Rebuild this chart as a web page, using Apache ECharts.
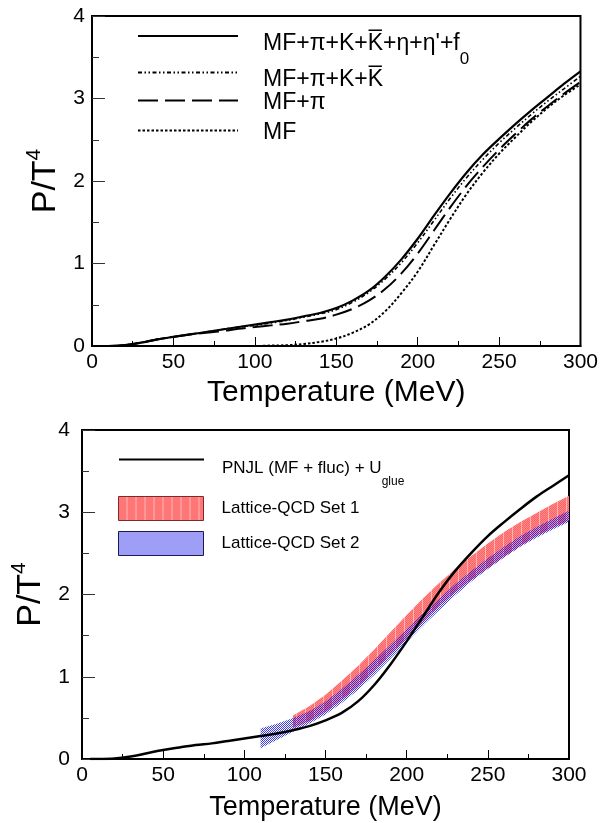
<!DOCTYPE html>
<html>
<head>
<meta charset="utf-8">
<script src="https://cdn.jsdelivr.net/npm/echarts@6/dist/echarts.min.js"></script>
<style>html,body{margin:0;padding:0;background:#fff;}#c{width:601px;height:823px;}</style>
</head>
<body>
<div id="c"></div>
<script>
// ---------- data ----------
const T_TOP   = [0,10,20,30,40,50,60,70,80,90,100,110,120,130,140,150,160,170,180,190,200,210,220,230,240,250,260,270,280,290,300];
const MF_FULL = [0,0,0.01,0.04,0.08,0.11,0.14,0.17,0.20,0.23,0.26,0.29,0.32,0.36,0.40,0.46,0.55,0.67,0.84,1.05,1.30,1.58,1.85,2.10,2.32,2.51,2.69,2.86,3.02,3.18,3.33];
const MF_PI_K = [0,0,0.01,0.04,0.08,0.11,0.14,0.17,0.20,0.23,0.25,0.28,0.31,0.35,0.39,0.44,0.53,0.65,0.81,1.01,1.25,1.52,1.79,2.04,2.26,2.46,2.64,2.81,2.97,3.12,3.27];
const MF_PI   = [0,0,0.01,0.04,0.08,0.11,0.14,0.16,0.18,0.21,0.23,0.25,0.27,0.30,0.33,0.38,0.45,0.55,0.69,0.88,1.12,1.40,1.68,1.94,2.17,2.38,2.57,2.75,2.91,3.06,3.20];
const MF_ONLY = [0,0,0,0,0,0,0,0,0,0,0,0.005,0.01,0.025,0.05,0.09,0.16,0.26,0.42,0.64,0.90,1.22,1.54,1.84,2.10,2.33,2.53,2.72,2.89,3.04,3.17];

const T_PNJL = [5,10,20,30,40,50,60,70,80,90,100,110,120,130,140,150,160,170,180,190,200,210,220,230,240,250,260,270,280,290,300];
const PNJL   = [0,0,0.005,0.03,0.07,0.11,0.14,0.17,0.19,0.22,0.25,0.28,0.31,0.35,0.40,0.47,0.56,0.70,0.90,1.15,1.43,1.73,2.03,2.29,2.51,2.71,2.88,3.04,3.19,3.32,3.45];

const T_SET1  = [130,140,150,160,170,180,190,200,210,220,230,240,250,260,270,280,290,300];
const SET1_LO = [0.38,0.46,0.57,0.72,0.88,1.07,1.27,1.47,1.67,1.86,2.03,2.18,2.32,2.46,2.59,2.71,2.81,2.90];
const SET1_HI = [0.53,0.64,0.78,0.95,1.13,1.33,1.54,1.75,1.95,2.14,2.31,2.47,2.62,2.76,2.88,2.99,3.10,3.20];

const T_SET2  = [110,120,130,140,150,160,170,180,190,200,210,220,230,240,250,260,270,280,290,300];
const SET2_LO = [0.13,0.23,0.33,0.43,0.54,0.68,0.84,1.02,1.22,1.42,1.62,1.81,1.99,2.16,2.31,2.45,2.58,2.69,2.79,2.88];
const SET2_HI = [0.37,0.43,0.50,0.58,0.70,0.85,1.02,1.20,1.39,1.58,1.77,1.95,2.13,2.29,2.44,2.58,2.71,2.82,2.92,3.02];

const NAMES_TOP = ["MF+π+K+K̅+η+η'+f0", "MF+π+K+K̅", "MF+π", "MF"];
const NAMES_BOT = ["PNJL (MF + fluc) + Uglue", "Lattice-QCD Set 1", "Lattice-QCD Set 2"];

// ---------- helpers ----------
const FONT = 'Liberation Sans, Arial, sans-serif';
const zip = (xs, ys) => xs.map((x, i) => [x, ys[i]]);
function makePattern(w, h, draw) {
  const c = document.createElement('canvas');
  c.width = w; c.height = h;
  draw(c.getContext('2d'));
  return { image: c, repeat: 'repeat' };
}
const redPat = makePattern(9, 2, ctx => {
  ctx.fillStyle = '#ff6262'; ctx.fillRect(0, 0, 9, 2);
  ctx.fillStyle = '#ff8a8a';
  for (let x = 0; x < 9; x++) for (let y = 0; y < 2; y++) if ((x + y) % 2 === 0) ctx.fillRect(x, y, 1, 1);
  ctx.fillStyle = '#ffb4b4'; ctx.fillRect(8, 0, 1, 2);
});
const bluePat = makePattern(2, 2, ctx => {
  ctx.fillStyle = 'rgba(40,40,235,0.9)';
  ctx.fillRect(0, 0, 1, 1); ctx.fillRect(1, 1, 1, 1);
});

function bandSeries(name, ts, lo, hi, fill, z) {
  return {
    name, type: 'custom', xAxisIndex: 1, yAxisIndex: 1, z,
    itemStyle: { color: fill },
    data: ts.map((t, i) => [t, lo[i], hi[i]]),
    encode: { x: 0, y: [1, 2] },
    renderItem: (params, api) => {
      if (params.dataIndex !== 0) return null;
      const pts = [];
      for (let j = 0; j < ts.length; j++) pts.push(api.coord([ts[j], hi[j]]));
      for (let j = ts.length - 1; j >= 0; j--) pts.push(api.coord([ts[j], lo[j]]));
      return { type: 'polygon', shape: { points: pts }, style: { fill: fill, stroke: null } };
    }
  };
}

function xAxis(gridIndex, nameSize, nameGap) {
  return {
    type: 'value', gridIndex, min: 0, max: 300, interval: 50,
    name: 'Temperature (MeV)', nameLocation: 'middle', nameGap,
    nameTextStyle: { fontSize: nameSize, color: '#000', fontFamily: FONT },
    axisLine: { show: true, lineStyle: { color: '#000', width: 2 } },
    axisTick: { show: true, inside: true, length: 9, lineStyle: { color: '#000', width: 1 } },
    minorTick: { show: true, splitNumber: 2, length: 5, lineStyle: { color: '#000', width: 1 } },
    splitLine: { show: false },
    axisLabel: { fontSize: 21, color: '#000', margin: 6, fontFamily: FONT }
  };
}
function yAxis(gridIndex, nameGap, labelMargin) {
  return {
    type: 'value', gridIndex, min: 0, max: 4, interval: 1,
    name: '{a|P/T}{b|4}', nameLocation: 'middle', nameRotate: 90, nameGap,
    nameTextStyle: {
      color: '#000', fontFamily: FONT,
      rich: {
        a: { fontSize: 34, lineHeight: 34, padding: [5, 0, 0, 0], verticalAlign: 'top', fontFamily: FONT, color: '#000' },
        b: { fontSize: 21, lineHeight: 21, verticalAlign: 'top', fontFamily: FONT, color: '#000' }
      }
    },
    axisLine: { show: true, lineStyle: { color: '#000', width: 1.5 } },
    axisTick: { show: true, inside: true, length: 13, lineStyle: { color: '#333', width: 1 } },
    minorTick: { show: true, splitNumber: 2, length: 7, lineStyle: { color: '#333', width: 1 } },
    splitLine: { show: false },
    axisLabel: { fontSize: 21, color: '#000', margin: labelMargin, fontFamily: FONT }
  };
}

function lineSeries(name, xs, ys, lineStyle, axisIdx) {
  return {
    name, type: 'line', xAxisIndex: axisIdx, yAxisIndex: axisIdx,
    data: zip(xs, ys), symbol: 'none', showSymbol: false, smooth: 0.35,
    lineStyle: Object.assign({ color: '#000' }, lineStyle), itemStyle: { color: '#000' },
    z: 5
  };
}

const hideSymbol = { itemStyle: { opacity: 0 } };
function legendItem(name, left, top, iw, ih, formatter, rich, extra) {
  return Object.assign({
    data: [name], left, top, orient: 'vertical', padding: 0, itemGap: 0,
    itemWidth: iw, itemHeight: ih, selectedMode: false, formatter,
    textStyle: { color: '#000', fontFamily: FONT, rich }
  }, extra || {});
}

const topRichMain = { fontSize: 23, lineHeight: 26, fontFamily: FONT, color: '#000' };

const option = {
  animation: false,
  backgroundColor: '#fff',
  grid: [
    { left: 92, top: 16, width: 489, height: 330, show: true, borderColor: '#000', borderWidth: 2, backgroundColor: 'transparent' },
    { left: 82, top: 430, width: 487, height: 329, show: true, borderColor: '#000', borderWidth: 2, backgroundColor: 'transparent' }
  ],
  xAxis: [xAxis(0, 30, 32), xAxis(1, 27, 35)],
  yAxis: [yAxis(0, 27, 7), yAxis(1, 35, 12)],
  legend: [
    legendItem(NAMES_TOP[0], 137, 23, 100, 14, "{a|MF+π+K+K̅+η+η'+f}{s|0}", {
      a: Object.assign({}, topRichMain, { padding: [9, 0, 9, 20], verticalAlign: 'top' }),
      s: { fontSize: 17, lineHeight: 16, padding: [27.5, 0, 0, 0], verticalAlign: 'top', fontFamily: FONT, color: '#000' }
    }, hideSymbol),
    legendItem(NAMES_TOP[1], 137, 54, 100, 14, "{a|MF+π+K+K̅}", {
      a: Object.assign({}, topRichMain, { padding: [14, 0, 0, 20] })
    }, hideSymbol),
    legendItem(NAMES_TOP[2], 137, 87, 100, 14, "{a|MF+π}", {
      a: Object.assign({}, topRichMain, { padding: [4, 0, 0, 20] })
    }, hideSymbol),
    legendItem(NAMES_TOP[3], 137, 117, 100, 14, "{a|MF}", {
      a: Object.assign({}, topRichMain, { padding: [4, 0, 0, 20] })
    }, hideSymbol),
    legendItem(NAMES_BOT[0], 118, 449.5, 85, 14, "{a|PNJL (MF + fluc) + U}{s|glue}", {
      a: { fontSize: 17, lineHeight: 20, padding: [10, 0, 15, 13], verticalAlign: 'top', fontFamily: FONT, color: '#000' },
      s: { fontSize: 12, lineHeight: 12, padding: [26.5, 0, 0, 0], verticalAlign: 'top', fontFamily: FONT, color: '#000' }
    }, hideSymbol),
    legendItem(NAMES_BOT[1], 118, 496, 85, 24, "{a|Lattice-QCD Set 1}", {
      a: { fontSize: 17, lineHeight: 20, padding: [0, 0, 0, 13], fontFamily: FONT, color: '#000' }
    }, { icon: 'rect', itemStyle: { color: redPat, borderColor: '#7a2a2a', borderWidth: 1 } }),
    legendItem(NAMES_BOT[2], 118, 531, 85, 24, "{a|Lattice-QCD Set 2}", {
      a: { fontSize: 17, lineHeight: 20, padding: [0, 0, 0, 13], fontFamily: FONT, color: '#000' }
    }, { icon: 'rect', itemStyle: { color: bluePat, borderColor: '#1a1a55', borderWidth: 1 } })
  ],
  series: [
    lineSeries(NAMES_TOP[0], T_TOP, MF_FULL, { width: 2.2, type: 'solid' }, 0),
    lineSeries(NAMES_TOP[1], T_TOP, MF_PI_K, { width: 1.6, type: [4, 2.5, 1.5, 2.5, 1.5, 2.5] }, 0),
    lineSeries(NAMES_TOP[2], T_TOP, MF_PI, { width: 2, type: [20, 7] }, 0),
    lineSeries(NAMES_TOP[3], T_TOP, MF_ONLY, { width: 2, type: [2.5, 2] }, 0),
    bandSeries(NAMES_BOT[1], T_SET1, SET1_LO, SET1_HI, redPat, 2),
    bandSeries(NAMES_BOT[2], T_SET2, SET2_LO, SET2_HI, bluePat, 3),
    lineSeries(NAMES_BOT[0], T_PNJL, PNJL, { width: 2.5, type: 'solid' }, 1)
  ]
};

const chart = echarts.init(document.getElementById('c'), null, { renderer: 'canvas' });
chart.setOption(option);
</script>
</body>
</html>
